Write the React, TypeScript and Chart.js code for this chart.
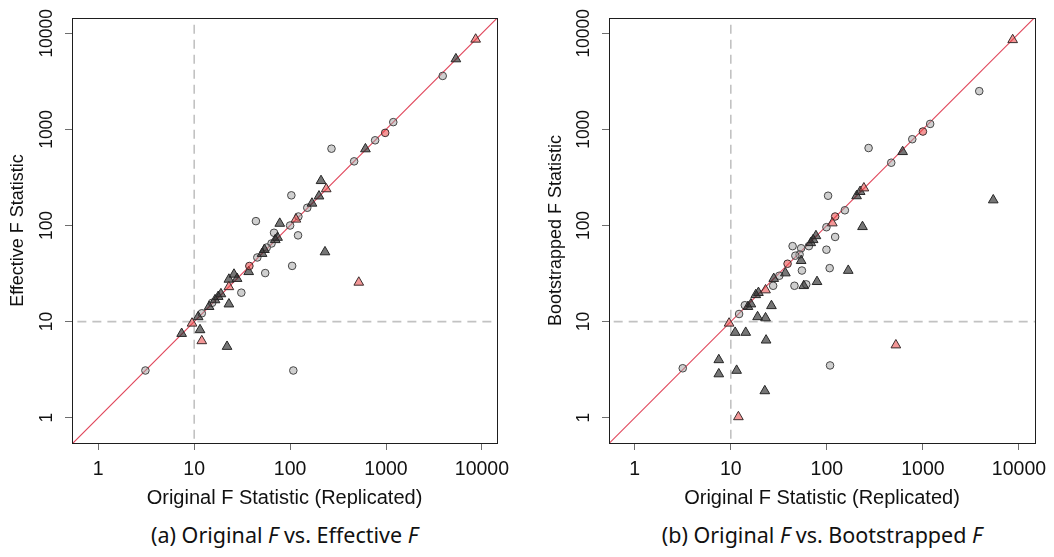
import React, { useEffect, useRef } from 'react';
import { Chart, registerables } from 'chart.js';

Chart.register(...registerables);

// ---------- shared axis data ----------
const tickValues = [1, 10, 100, 1000, 10000];
const tickLabels = ['1', '10', '100', '1000', '10000'];
const thresholdF = 10;

// ---------- panel (a): Original F vs. Effective F ----------
const originalA = [
  8600, 5350, 3900, 1190, 980, 770, 270, 610, 465, 210,
  238, 200, 103, 169, 151, 44, 78, 115, 122, 100,
  121, 68, 74, 70, 64, 57, 54, 51, 45.5, 37.6,
  37, 55, 105, 231, 26, 28, 23, 23, 31, 19,
  17.8, 16.5, 15.4, 14.3, 23, 12, 11, 9.5, 11.5, 7.4,
  12, 22, 3.1, 108, 520,
];
const effectiveA = [
  8650, 5400, 3600, 1190, 920, 770, 630, 625, 465, 292,
  240, 202, 206, 170, 153, 111, 105, 116, 124, 100,
  79, 84, 75, 71, 65, 59, 56, 51, 46.5, 37.9,
  33, 32, 38, 53, 31, 28, 27.5, 23, 20, 19.4,
  18.2, 16.8, 15.7, 14.3, 15.2, 12.2, 11.2, 9.6, 8.2, 7.5,
  6.3, 5.5, 3.1, 3.1, 25.6,
];
const groupA = [
  'rt', 't', 'c', 'c', 'rc', 'c', 'c', 't', 'c', 't',
  'rt', 't', 'c', 't', 'c', 'c', 't', 'rt', 'c', 'c',
  'c', 'c', 't', 't', 'c', 'c', 't', 't', 'c', 'rc',
  't', 'c', 'c', 't', 't', 't', 't', 'rt', 'c', 't',
  't', 't', 'c', 't', 't', 'c', 't', 'rt', 't', 't',
  'rt', 't', 'c', 'c', 'rt',
];

// ---------- panel (b): Original F vs. Bootstrapped F ----------
const originalB = [
  8600, 3860, 1190, 1000, 775, 272, 615, 468, 243, 222,
  204, 103, 154, 122, 114, 99, 235, 122, 77, 72,
  68, 65, 54, 44, 99, 52, 47, 54, 55, 107,
  167, 39, 37, 32, 28, 27.6, 23, 19.4, 18.2, 46,
  57.5, 61, 79, 5400, 16.2, 15.1, 14, 26.5, 12.2, 19,
  23, 9.6, 11.1, 14.3, 23.3, 523, 7.5, 3.16, 7.5, 11.5,
  108, 22.6, 12,
];
const bootstrappedB = [
  8550, 2500, 1140, 950, 790, 640, 585, 450, 245, 225,
  203, 204, 144, 124, 106, 96, 97, 76, 78, 71,
  66, 61, 58, 61, 56, 50, 48.5, 43, 34, 36,
  34, 40, 32, 30, 28, 23.6, 21.3, 20, 19, 23.6,
  23.6, 24.4, 26, 184, 15.2, 14.3, 14.8, 14.6, 12, 11.2,
  10.9, 9.6, 7.7, 7.7, 6.4, 5.7, 4.0, 3.27, 2.85, 3.1,
  3.5, 1.9, 1.02,
];
const groupB = [
  'rt', 'c', 'c', 'rc', 'c', 'c', 't', 'c', 'rt', 't',
  't', 'c', 'c', 'rc', 'rt', 'c', 't', 'c', 't', 't',
  't', 'c', 'c', 'c', 'c', 'c', 'c', 't', 'c', 'c',
  't', 'rc', 't', 'c', 't', 'c', 'rt', 't', 't', 'c',
  't', 'c', 't', 't', 't', 't', 'c', 't', 'c', 't',
  't', 'rt', 't', 't', 't', 'rt', 't', 'c', 't', 't',
  'c', 't', 'rt',
];

// ---------- styling ----------
const axisFont = '"Liberation Sans", Arial, Helvetica, sans-serif';
const captionFont = '"Noto Sans", "Open Sans", sans-serif';

const markerStyles: Record<string, any> = {
  rt: { pointStyle: 'triangle', radius: 5.6, bg: 'rgba(234,66,66,0.55)', border: '#3a2c2c' },
  rc: { pointStyle: 'circle', radius: 3.8, bg: 'rgba(234,66,66,0.55)', border: '#3a2c2c' },
  t: { pointStyle: 'triangle', radius: 5.6, bg: 'rgba(40,40,40,0.64)', border: '#262626' },
  c: { pointStyle: 'circle', radius: 3.8, bg: 'rgba(160,160,160,0.5)', border: '#464646' },
};
const drawOrder = ['rt', 'rc', 't', 'c']; // first = drawn on top

type PanelProps = {
  xs: number[];
  ys: number[];
  groups: string[];
  yTitle: string;
  xRange: [number, number]; // log10 limits
  yRange: [number, number];
  canvasLeft: number;
  canvasWidth: number;
  yAxisWidth: number;
  rightPad: number;
  yTitlePad: number;
};

const canvasHeight = 520;
const topPad = 18;
const xAxisHeight = 77;

function Panel(p: PanelProps) {
  const ref = useRef<HTMLCanvasElement | null>(null);
  useEffect(() => {
    if (!ref.current) return;
    const pointSets = drawOrder.map((k) => {
      const st = markerStyles[k];
      const data = p.xs
        .map((x, i) => ({ x, y: p.ys[i], g: p.groups[i] }))
        .filter((d) => d.g === k)
        .map((d) => ({ x: d.x, y: d.y }));
      return {
        data,
        pointStyle: st.pointStyle,
        pointRadius: st.radius,
        pointHoverRadius: st.radius,
        pointBackgroundColor: st.bg,
        pointBorderColor: st.border,
        pointBorderWidth: 1,
        showLine: false,
        order: 1,
      };
    });
    const lo = 0.1;
    const hi = 1e5;
    const lineSets = [
      {
        data: [{ x: lo, y: lo }, { x: hi, y: hi }],
        showLine: true,
        borderColor: '#e0455a',
        backgroundColor: '#e0455a',
        borderWidth: 1.1,
        pointRadius: 0,
        fill: false,
        order: 5,
      },
      {
        data: [{ x: thresholdF, y: lo }, { x: thresholdF, y: hi }],
        showLine: true,
        borderColor: '#c2c2c2',
        borderWidth: 1.6,
        borderDash: [9, 6],
        pointRadius: 0,
        fill: false,
        order: 6,
      },
      {
        data: [{ x: lo, y: thresholdF }, { x: hi, y: thresholdF }],
        showLine: true,
        borderColor: '#c2c2c2',
        borderWidth: 1.6,
        borderDash: [9, 6],
        pointRadius: 0,
        fill: false,
        order: 6,
      },
    ];

    const setTicks = (s: any) => {
      s.ticks = tickValues.map((v) => ({ value: v }));
    };
    const gridOpts = {
      display: true,
      drawOnChartArea: false,
      drawTicks: true,
      tickLength: 7,
      color: '#6e6e6e',
      lineWidth: 1,
    };

    const framePlugin = {
      id: 'framePlugin',
      afterDraw(chart: any) {
        const { ctx, chartArea } = chart;
        const yScale = chart.scales.y;
        ctx.save();
        ctx.strokeStyle = '#1e1e1e';
        ctx.lineWidth = 1;
        ctx.strokeRect(
          Math.round(chartArea.left) + 0.5,
          Math.round(chartArea.top) + 0.5,
          Math.round(chartArea.right - chartArea.left),
          Math.round(chartArea.bottom - chartArea.top)
        );
        ctx.font = `17.5px ${axisFont}`;
        ctx.fillStyle = '#111';
        ctx.textAlign = 'center';
        ctx.textBaseline = 'middle';
        tickValues.forEach((v, i) => {
          const py = yScale.getPixelForValue(v);
          ctx.save();
          ctx.translate(chartArea.left - 24.5, py);
          ctx.rotate(-Math.PI / 2);
          ctx.fillText(tickLabels[i], 0, 0);
          ctx.restore();
        });
        ctx.restore();
      },
    };

    const chart = new Chart(ref.current, {
      type: 'scatter',
      data: { datasets: [...pointSets, ...lineSets] as any },
      options: {
        animation: false,
        responsive: false,
        maintainAspectRatio: false,
        devicePixelRatio: 1,
        events: [],
        layout: { padding: { left: 0, right: p.rightPad, top: topPad, bottom: 0 } },
        plugins: { legend: { display: false }, tooltip: { enabled: false } },
        scales: {
          x: {
            type: 'logarithmic',
            min: Math.pow(10, p.xRange[0]),
            max: Math.pow(10, p.xRange[1]),
            bounds: 'data',
            afterBuildTicks: setTicks,
            afterFit: (s: any) => {
              s.height = xAxisHeight;
            },
            ticks: {
              autoSkip: false,
              maxRotation: 0,
              minRotation: 0,
              padding: 8,
              color: '#111',
              font: { family: axisFont, size: 19.5 },
              callback: (v: any) => {
                const i = tickValues.indexOf(Number(v));
                return i >= 0 ? tickLabels[i] : '';
              },
            },
            grid: gridOpts,
            border: { display: false },
            title: {
              display: true,
              text: 'Original F Statistic (Replicated)',
              color: '#111',
              font: { family: axisFont, size: 20 },
              padding: { top: 0, bottom: 10 },
            },
          },
          y: {
            type: 'logarithmic',
            min: Math.pow(10, p.yRange[0]),
            max: Math.pow(10, p.yRange[1]),
            bounds: 'data',
            afterBuildTicks: setTicks,
            afterFit: (s: any) => {
              s.width = p.yAxisWidth;
            },
            ticks: { display: false, autoSkip: false },
            grid: gridOpts,
            border: { display: false },
            title: {
              display: true,
              text: p.yTitle,
              color: '#111',
              font: { family: axisFont, size: 18 },
              padding: { top: p.yTitlePad, bottom: 0 },
            },
          },
        },
      } as any,
      plugins: [framePlugin],
    });
    return () => chart.destroy();
  }, []);

  return (
    <canvas
      ref={ref}
      width={p.canvasWidth}
      height={canvasHeight}
      style={{
        position: 'absolute',
        left: p.canvasLeft,
        top: 0,
        width: p.canvasWidth,
        height: canvasHeight,
        display: 'block',
      }}
    />
  );
}

const captionStyle: React.CSSProperties = {
  position: 'absolute',
  top: 524,
  width: 420,
  textAlign: 'center',
  fontFamily: captionFont,
  fontSize: 21.5,
  lineHeight: '21.5px',
  color: '#111',
  whiteSpace: 'nowrap',
};

export default function App() {
  return (
    <div
      style={{
        position: 'fixed',
        left: 0,
        top: 0,
        width: 1054,
        height: 557,
        overflow: 'hidden',
        background: '#fff',
      }}
    >
      <Panel
        xs={originalA}
        ys={effectiveA}
        groups={groupA}
        yTitle="Effective F Statistic"
        xRange={[-0.274, 4.157]}
        yRange={[-0.263, 4.159]}
        canvasLeft={0}
        canvasWidth={527}
        yAxisWidth={72}
        rightPad={30}
        yTitlePad={7}
      />
      <Panel
        xs={originalB}
        ys={bootstrappedB}
        groups={groupB}
        yTitle="Bootstrapped F Statistic"
        xRange={[-0.268, 4.167]}
        yRange={[-0.263, 4.159]}
        canvasLeft={527}
        canvasWidth={547}
        yAxisWidth={82}
        rightPad={39}
        yTitlePad={18}
      />
      <div style={{ ...captionStyle, left: 284.5 - 210 }}>
        (a) Original <i>F</i> vs. Effective <i>F</i>
      </div>
      <div style={{ ...captionStyle, left: 822 - 210 }}>
        (b) Original <i>F</i> vs. Bootstrapped <i>F</i>
      </div>
    </div>
  );
}
